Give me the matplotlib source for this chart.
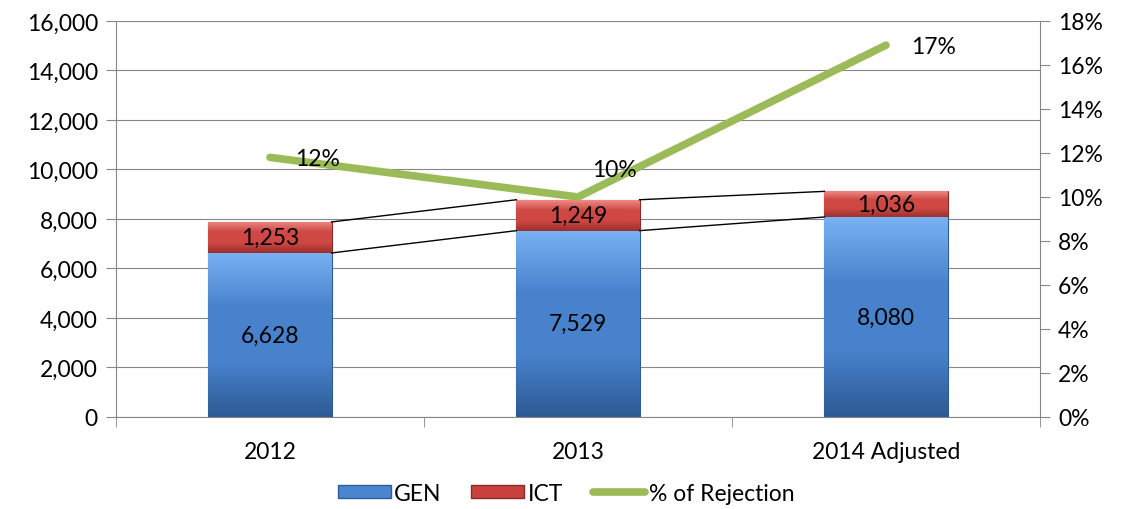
import numpy as np
import matplotlib.pyplot as plt
from matplotlib.patches import Patch
from matplotlib.lines import Line2D
from matplotlib.ticker import FuncFormatter, MultipleLocator

plt.rcParams['font.family'] = ['Lato', 'DejaVu Sans']

years = ['2012', '2013', '2014 Adjusted']
gen = [6628, 7529, 8080]
ict = [1253, 1249, 1036]
reject = [11.8, 10.0, 16.9]
reject_labels = ['12%', '10%', '17%']

axis_gray = '#868686'
blue = '#4a86d0'
red = '#c9413d'
green = '#9bbb59'
fs = 16.5

fig = plt.figure(figsize=(11.21, 5.10), dpi=100)
ax = fig.add_axes([0.1035, 0.1804, 0.8242, 0.7765])
x = np.arange(len(years))
w = 0.4

ax.set_xlim(-0.5, 2.5)
ax.set_ylim(0, 16000)
ax.yaxis.set_major_locator(MultipleLocator(2000))
ax.yaxis.set_major_formatter(FuncFormatter(lambda v, p: f'{int(v):,}'))
ax.grid(axis='y', color=axis_gray, linewidth=0.8)
ax.set_axisbelow(True)


def bevel(bars, c_top, c_mid, c_bot):
    # vertical gradient clipped to each bar, to mimic the Excel bevel
    cmap = plt.matplotlib.colors.LinearSegmentedColormap.from_list(
        'g', [c_bot, c_mid, c_mid, c_top], N=256)
    grad = np.linspace(0, 1, 256).reshape(-1, 1)
    for b in bars:
        x0, y0 = b.get_x(), b.get_y()
        im = ax.imshow(grad, cmap=cmap, origin='lower', aspect='auto',
                       extent=[x0, x0 + b.get_width(), y0, y0 + b.get_height()],
                       zorder=2.5)
        im.set_clip_path(b)


gb = ax.bar(x, gen, w, color=blue, edgecolor='#2f5d95', linewidth=0.8, zorder=2)
ib = ax.bar(x, ict, w, bottom=gen, color=red, edgecolor='#8b2b28', linewidth=0.8, zorder=2)
bevel(gb, '#79b2f2', '#4882cc', '#2c5a93')
bevel(ib, '#ef8a86', '#cf4844', '#9a2f2c')
ax.set_xlim(-0.5, 2.5)
ax.set_ylim(0, 16000)

# series lines between stacked segment tops
tops = np.array(gen) + np.array(ict)
for i in range(len(x) - 1):
    for yv in (gen, tops):
        ax.plot([x[i] + w / 2, x[i + 1] - w / 2], [yv[i], yv[i + 1]],
                color='black', linewidth=1.0, zorder=3)

for i in range(len(x)):
    ax.text(x[i], gen[i] / 2, f'{gen[i]:,}', ha='center', va='center',
            fontsize=fs, zorder=4)
    ax.text(x[i], gen[i] + ict[i] / 2, f'{ict[i]:,}', ha='center', va='center',
            fontsize=fs, zorder=4)

ax.set_xticks(x)
ax.set_xticklabels(years, fontsize=fs)
ax.set_xticks([-0.5, 0.5, 1.5, 2.5], minor=True)
ax.tick_params(axis='x', which='major', length=0, pad=17)
ax.tick_params(axis='x', which='minor', length=7, color=axis_gray, direction='out')
ax.tick_params(axis='y', labelsize=fs, length=7, color=axis_gray, pad=6)
for s in ['top', 'right']:
    ax.spines[s].set_visible(False)
for s in ['left', 'bottom']:
    ax.spines[s].set_color(axis_gray)

ax2 = ax.twinx()
ax2.set_ylim(0, 18)
ax2.yaxis.set_major_locator(MultipleLocator(2))
ax2.yaxis.set_major_formatter(FuncFormatter(lambda v, p: f'{int(v)}%'))
ax2.tick_params(axis='y', labelsize=fs, length=7, color=axis_gray, pad=6)
for s in ['top', 'left', 'bottom']:
    ax2.spines[s].set_visible(False)
ax2.spines['right'].set_color(axis_gray)
ax2.plot(x, reject, color=green, linewidth=5.5, solid_capstyle='round', zorder=5)
offsets = [(34, -1), (26, 20), (34, -1)]
for i in range(len(x)):
    ax2.annotate(reject_labels[i], (x[i], reject[i]), xytext=offsets[i],
                 textcoords='offset points', ha='center', va='center',
                 fontsize=fs, zorder=6)

handles = [Patch(facecolor=blue, edgecolor='#2f5d95'),
           Patch(facecolor=red, edgecolor='#8b2b28'),
           Line2D([0], [0], color=green, linewidth=5.5, solid_capstyle='round')]
fig.legend(handles, ['GEN', 'ICT', '% of Rejection'], loc='center',
           bbox_to_anchor=(0.505, 0.031), ncol=3, frameon=False, fontsize=fs,
           handlelength=2.3, handleheight=0.5, handletextpad=0.15,
           columnspacing=1.3)

fig.savefig('out.png', dpi=100)
